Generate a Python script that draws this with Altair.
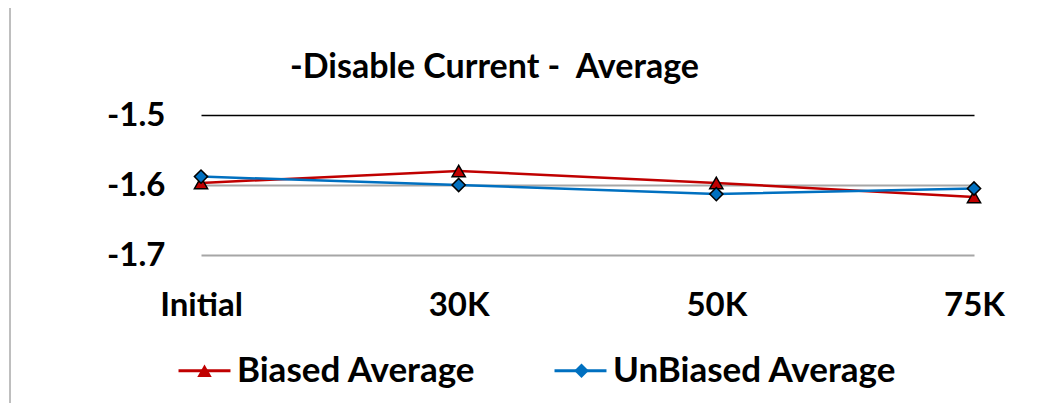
import altair as alt
import pandas as pd

categories = ["Initial", "30K", "50K", "75K"]
series_names = ["Biased Average", "UnBiased Average"]
biased = [-1.597, -1.580, -1.597, -1.617]
unbiased = [-1.588, -1.600, -1.613, -1.605]
y_ticks = [-1.7, -1.6, -1.5]
title_text = "-Disable Current -\u00a0 Average"
colors = ["#C00000", "#0070C0"]
shapes = ["triangle-up", "diamond"]

rows = []
for name, vals in zip(series_names, [biased, unbiased]):
    for c, v in zip(categories, vals):
        rows.append({"Stage": c, "Series": name, "Value": v})
df = pd.DataFrame(rows)

FONT = "Lato"
FS = 33
LFS = 35

x_enc = alt.X(
    "Stage:N", sort=categories,
    scale=alt.Scale(type="point", padding=0),
    axis=alt.Axis(title=None, domain=False, ticks=False, tickSize=0, labelAngle=0,
                  labelPadding=34, labelFontSize=FS, labelFont=FONT,
                  labelFontWeight="bold", labelColor="black", grid=False),
)
y_enc = alt.Y(
    "Value:Q",
    scale=alt.Scale(domain=[-1.7, -1.5], nice=False, zero=False),
    axis=alt.Axis(title=None, values=y_ticks,
                  labelExpr="'' + round(datum.value*10)/10",
                  domain=False, ticks=False, tickSize=0, labelPadding=36,
                  labelFontSize=FS, labelFont=FONT, labelFontWeight="bold",
                  labelColor="black", grid=True,
                  gridColor={"condition": {"test": "datum.value > -1.55", "value": "#000000"}, "value": "#A6A6A6"},
                  gridWidth={"condition": {"test": "datum.value > -1.55", "value": 1.3}, "value": 2}),
)

frame = alt.Chart(alt.Data(values=[{"a": 1}])).mark_rule(color="#7F7F7F", strokeWidth=1).encode(
    x=alt.value(-191), y=alt.value(-107), y2=alt.value(290)
)

lines = alt.Chart(df).mark_line(strokeWidth=2.5).encode(
    x=x_enc, y=y_enc,
    stroke=alt.Stroke(
        "Series:N",
        scale=alt.Scale(range=colors),
        legend=alt.Legend(orient="none", legendX=-24, legendY=228, direction="horizontal",
                          title=None, symbolType="stroke", symbolSize=2700,
                          symbolStrokeWidth=3, labelFont=FONT, labelFontSize=LFS,
                          labelFontWeight="bold", labelColor="black", labelOffset=5,
                          labelLimit=0, symbolOffset=0, columnPadding=72, padding=0),
    ),
)

leg_pts = alt.Legend(orient="none", legendX=-24, legendY=238, direction="horizontal",
                     title=None, symbolSize=210, symbolStrokeColor="black",
                     symbolStrokeWidth=1.5, labelFont=FONT, labelFontSize=LFS,
                     labelExpr="''", labelOffset=20,
                     labelLimit=0, symbolOffset=10, columnPadding=312, padding=0)

points = alt.Chart(df).transform_calculate(S2="datum.Series").mark_point(
    filled=True, stroke="black", strokeWidth=1.5, size=175, opacity=1
).encode(
    x=x_enc, y=y_enc,
    fill=alt.Fill("S2:N", scale=alt.Scale(domain=series_names, range=colors), legend=leg_pts),
    shape=alt.Shape("S2:N", scale=alt.Scale(domain=series_names, range=shapes), legend=leg_pts),
)

chart = alt.layer(frame, lines, points).properties(
    width=773, height=140,
    padding={"left": 193, "top": 107, "right": 66, "bottom": 148},
    autosize=alt.AutoSizeParams(type="none"),
    title=alt.TitleParams(title_text, font=FONT, fontSize=34, fontWeight="bold",
                          color="black", anchor="middle", frame="group", dx=-93, dy=81),
    background="white",
).configure_view(stroke=None)

chart.save("out.html", embed_options={"renderer": "svg", "actions": False})
